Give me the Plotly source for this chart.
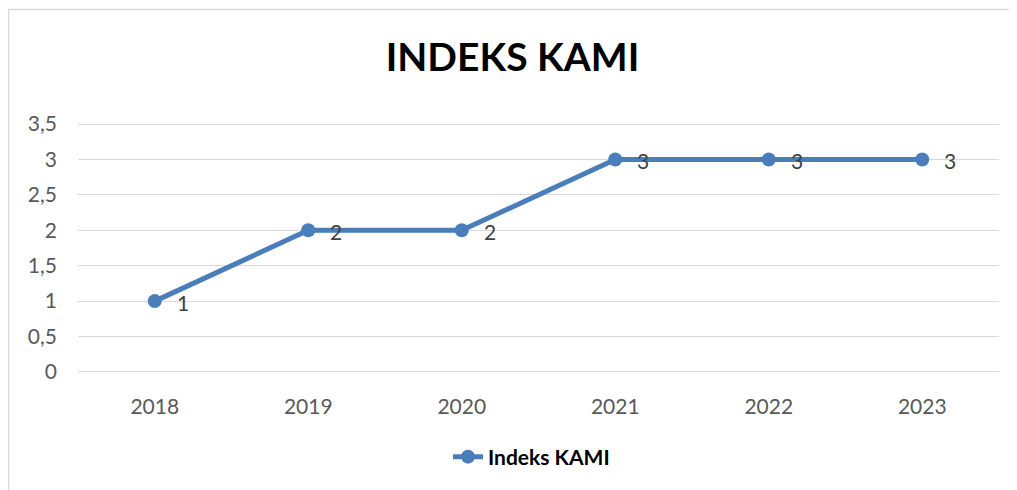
import plotly.graph_objects as go

years = ["2018", "2019", "2020", "2021", "2022", "2023"]
values = [1, 2, 2, 3, 3, 3]
series_name = "Indeks KAMI"
title_text = "INDEKS KAMI"
y_ticks = [0, 0.5, 1, 1.5, 2, 2.5, 3, 3.5]

LINE_COLOR = "#4A7EBB"
FONT = "Lato"

# page is offset by the default 8px body margin
OFF = 8
W, H = 1017 - OFF, 490 - OFF
PAD = 0.015
L, R, T, B = 78 - OFF, 18, 115, 117
pw, ph = W - L - R, H - T - B

def px_x(p):
    return (p - OFF - L) / pw

def px_y(p):
    return (H - B - (p - OFF)) / ph

fig = go.Figure()
fig.add_trace(go.Scatter(
    x=years, y=values, name=f"<b>{series_name}</b>", mode="lines+markers",
    line=dict(color=LINE_COLOR, width=5),
    marker=dict(color=LINE_COLOR, size=14),
    showlegend=True,
))

annotations = []
for i, yv in enumerate(values):
    annotations.append(dict(
        x=i, y=yv, xref="x", yref="y", text=str(yv), showarrow=False,
        xanchor="left", yanchor="middle", xshift=20, yshift=-1,
        font=dict(family=FONT, size=21, color="#404040"),
    ))

fig.update_layout(
    width=W, height=H,
    margin=dict(l=L, r=R, t=T, b=B, pad=0),
    paper_bgcolor="white", plot_bgcolor="white",
    separators=", ",
    title=dict(text=f"<b>{title_text}</b>", x=0.5, xanchor="center",
               y=1 - (57 - OFF) / H, yanchor="middle",
               font=dict(family=FONT, size=39, color="#000000")),
    xaxis=dict(type="category", showgrid=False, showline=False, zeroline=False,
               ticks="", tickfont=dict(family=FONT, size=21, color="#595959"),
               ticklabelstandoff=19, range=[-0.5, 5.5]),
    yaxis=dict(range=[-PAD, 3.5 + PAD], tickvals=y_ticks, showgrid=True,
               gridcolor="#D9D9D9", gridwidth=1, zeroline=False, showline=False,
               ticks="", tickfont=dict(family=FONT, size=21, color="#595959"),
               ticklabelstandoff=20),
    legend=dict(orientation="h", x=0.5 - 7 / pw, xanchor="center",
                y=px_y(457), yanchor="middle",
                font=dict(family=FONT, size=21, color="#000000")),
    annotations=annotations,
    shapes=[dict(type="rect", xref="paper", yref="paper",
                 x0=px_x(8.5), x1=px_x(1040), y0=px_y(520), y1=px_y(9.5),
                 line=dict(color="#D9D9D9", width=1.5), layer="below")],
)

fig.write_html("out.html")
